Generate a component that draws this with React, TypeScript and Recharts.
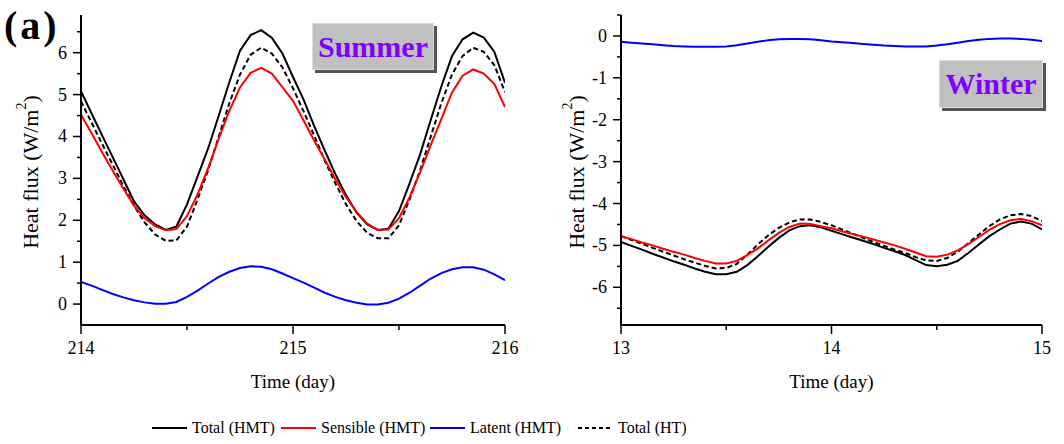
import React from 'react';
import { LineChart, Line, XAxis, YAxis } from 'recharts';

// Summer run, days 214–216 (W/m²)
const summerDays = [
  214.0, 214.05, 214.1, 214.15, 214.2, 214.25, 214.3, 214.35, 214.4, 214.45,
  214.5, 214.55, 214.6, 214.65, 214.7, 214.75, 214.8, 214.85, 214.9, 214.95,
  215.0, 215.05, 215.1, 215.15, 215.2, 215.25, 215.3, 215.35, 215.4, 215.45,
  215.5, 215.55, 215.6, 215.65, 215.7, 215.75, 215.8, 215.85, 215.9, 215.95, 216.0,
];
const summerTotalHMT = [
  5.08, 4.55, 4.02, 3.5, 2.98, 2.45, 2.12, 1.9, 1.77, 1.85,
  2.38, 3.05, 3.72, 4.5, 5.3, 6.05, 6.42, 6.54, 6.36, 5.98,
  5.42, 4.88, 4.25, 3.66, 3.1, 2.6, 2.18, 1.9, 1.77, 1.8,
  2.22, 2.88, 3.58, 4.4, 5.2, 5.92, 6.32, 6.48, 6.36, 6.02, 5.28,
];
const summerSensibleHMT = [
  4.52, 4.08, 3.62, 3.18, 2.75, 2.35, 2.05, 1.86, 1.76, 1.79,
  2.1, 2.62, 3.25, 3.95, 4.62, 5.17, 5.52, 5.64, 5.5, 5.18,
  4.85, 4.38, 3.9, 3.45, 2.98, 2.55, 2.2, 1.92, 1.77, 1.78,
  2.05, 2.55, 3.15, 3.8, 4.42, 5.05, 5.45, 5.6, 5.5, 5.25, 4.7,
];
const summerLatentHMT = [
  0.53, 0.44, 0.34, 0.24, 0.16, 0.09, 0.04, 0.01, 0.01, 0.05,
  0.17, 0.32, 0.49, 0.65, 0.77, 0.86, 0.9, 0.89, 0.83, 0.73,
  0.62, 0.51, 0.39, 0.27, 0.17, 0.09, 0.03, -0.01, -0.01, 0.03,
  0.13, 0.27, 0.44, 0.61, 0.74, 0.83, 0.88, 0.88, 0.82, 0.71, 0.57,
];
const summerTotalHT = [
  4.84, 4.33, 3.82, 3.32, 2.82, 2.35, 1.95, 1.66, 1.51, 1.52,
  1.85, 2.5, 3.2, 4.0, 4.8, 5.48, 5.95, 6.12, 5.98, 5.65,
  5.15, 4.6, 4.02, 3.42, 2.88, 2.38, 1.98, 1.7, 1.57, 1.57,
  1.88, 2.5, 3.2, 4.0, 4.8, 5.48, 5.92, 6.12, 6.02, 5.7, 5.06,
];

// Winter run, days 13–15 (W/m²)
const winterDays = [
  13.0, 13.05, 13.1, 13.15, 13.2, 13.25, 13.3, 13.35, 13.4, 13.45,
  13.5, 13.55, 13.6, 13.65, 13.7, 13.75, 13.8, 13.85, 13.9, 13.95,
  14.0, 14.05, 14.1, 14.15, 14.2, 14.25, 14.3, 14.35, 14.4, 14.45,
  14.5, 14.55, 14.6, 14.65, 14.7, 14.75, 14.8, 14.85, 14.9, 14.95, 15.0,
];
const winterTotalHMT = [
  -4.92, -5.01, -5.1, -5.2, -5.29, -5.38, -5.46, -5.55, -5.63, -5.69,
  -5.69, -5.63, -5.47, -5.26, -5.03, -4.82, -4.64, -4.54, -4.52, -4.57,
  -4.65, -4.73, -4.81, -4.89, -4.97, -5.06, -5.14, -5.23, -5.35, -5.47,
  -5.5, -5.46, -5.37, -5.18, -4.98, -4.78, -4.62, -4.48, -4.43, -4.48, -4.62,
];
const winterSensibleHMT = [
  -4.78, -4.85, -4.93, -5.0, -5.08, -5.15, -5.22, -5.3, -5.37, -5.43,
  -5.43, -5.37, -5.23, -5.07, -4.88, -4.7, -4.56, -4.48, -4.49, -4.54,
  -4.59, -4.66, -4.73, -4.79, -4.86, -4.93, -5.0, -5.08, -5.17, -5.26,
  -5.27, -5.22, -5.12, -4.97, -4.8, -4.63, -4.49, -4.4, -4.37, -4.42, -4.52,
];
const winterLatentHMT = [
  -0.14, -0.16, -0.18, -0.2, -0.22, -0.24, -0.25, -0.26, -0.26, -0.26,
  -0.25, -0.22, -0.18, -0.14, -0.1, -0.08, -0.07, -0.07, -0.08, -0.1,
  -0.13, -0.15, -0.17, -0.19, -0.21, -0.23, -0.24, -0.25, -0.25, -0.25,
  -0.23, -0.2, -0.16, -0.12, -0.09, -0.07, -0.06, -0.06, -0.07, -0.09, -0.12,
];
const winterTotalHT = [
  -4.78, -4.87, -4.96, -5.06, -5.15, -5.24, -5.33, -5.41, -5.49, -5.55,
  -5.54, -5.44, -5.22, -4.98, -4.76, -4.58, -4.45, -4.38, -4.38, -4.44,
  -4.52, -4.62, -4.72, -4.82, -4.92, -5.01, -5.1, -5.18, -5.28, -5.36,
  -5.37, -5.3, -5.15, -4.95, -4.74, -4.54, -4.38, -4.28, -4.25, -4.3, -4.42,
];

const summerTicksX = [214, 214.5, 215, 215.5, 216];
const summerTicksY = [0, 0.5, 1, 1.5, 2, 2.5, 3, 3.5, 4, 4.5, 5, 5.5, 6, 6.5];
const winterTicksX = [13, 13.5, 14, 14.5, 15];
const winterTicksY = [-6.5, -6, -5.5, -5, -4.5, -4, -3.5, -3, -2.5, -2, -1.5, -1, -0.5, 0, 0.5];

const FONT = '"Liberation Serif", "Times New Roman", serif';
const PURPLE = '#8000ff';

const summerData = summerDays.map((day, i) => ({
  day,
  total: summerTotalHMT[i],
  sensible: summerSensibleHMT[i],
  latent: summerLatentHMT[i],
  totalHT: summerTotalHT[i],
}));

const winterData = winterDays.map((day, i) => ({
  day,
  total: winterTotalHMT[i],
  sensible: winterSensibleHMT[i],
  latent: winterLatentHMT[i],
  totalHT: winterTotalHT[i],
}));

// ticks: long ones with a label on whole numbers, short ones on halves
const YTick = ({ x, y, payload }: any) => {
  const major = Number.isInteger(payload.value);
  return (
    <g>
      <line x1={x} x2={x - (major ? 8 : 4)} y1={y} y2={y} stroke="#000" strokeWidth={1.5} />
      {major && (
        <text x={x - 14} y={y + 6} textAnchor="end" fontSize={18} fontFamily={FONT} fill="#000">
          {payload.value}
        </text>
      )}
    </g>
  );
};

const XTick = ({ x, y, payload }: any) => {
  const major = Number.isInteger(payload.value);
  return (
    <g>
      <line x1={x} x2={x} y1={y} y2={y + (major ? 9 : 5)} stroke="#000" strokeWidth={1.5} />
      {major && (
        <text x={x} y={y + 29} textAnchor="middle" fontSize={18} fontFamily={FONT} fill="#000">
          {payload.value}
        </text>
      )}
    </g>
  );
};

const YTitle = ({ viewBox, cx }: any) => {
  const cy = viewBox.y + viewBox.height / 2 + 2;
  return (
    <text
      x={cx}
      y={cy}
      transform={`rotate(-90 ${cx} ${cy})`}
      textAnchor="middle"
      dominantBaseline="central"
      fontSize={22}
      fontFamily={FONT}
      fill="#000"
    >
      Heat flux (W/m
      <tspan fontSize={14} dy={-9}>2</tspan>
      <tspan dy={9}>)</tspan>
    </text>
  );
};

const XTitle = ({ viewBox }: any) => (
  <text
    x={viewBox.x + viewBox.width / 2}
    y={viewBox.y + 63}
    textAnchor="middle"
    fontSize={19}
    fontFamily={FONT}
    fill="#000"
  >
    Time (day)
  </text>
);

const Panel = ({ data, xDomain, xTicks, yDomain, yTicks, width, rightMargin, titleX }: any) => (
  <LineChart
    width={width}
    height={400}
    data={data}
    margin={{ top: 15, right: rightMargin, bottom: 0, left: 0 }}
  >
    <XAxis
      type="number"
      dataKey="day"
      domain={xDomain}
      ticks={xTicks}
      interval={0}
      tick={<XTick />}
      tickLine={false}
      tickSize={0}
      tickMargin={0}
      axisLine={{ stroke: '#000', strokeWidth: 2 }}
      height={75}
      allowDataOverflow
      label={<XTitle />}
    />
    <YAxis
      type="number"
      domain={yDomain}
      ticks={yTicks}
      interval={0}
      tick={<YTick />}
      tickLine={false}
      tickSize={0}
      tickMargin={0}
      axisLine={{ stroke: '#000', strokeWidth: 2 }}
      width={81}
      allowDataOverflow
      label={<YTitle cx={titleX} />}
    />
    <Line dataKey="total" stroke="#000" strokeWidth={2} dot={false} activeDot={false} isAnimationActive={false} />
    <Line dataKey="totalHT" stroke="#000" strokeWidth={2} strokeDasharray="5 3" dot={false} activeDot={false} isAnimationActive={false} />
    <Line dataKey="sensible" stroke="#ff0000" strokeWidth={2} dot={false} activeDot={false} isAnimationActive={false} />
    <Line dataKey="latent" stroke="#0000ff" strokeWidth={2} dot={false} activeDot={false} isAnimationActive={false} />
  </LineChart>
);

const SeasonTag = ({ text, left, top, width, height }: any) => (
  <div
    style={{
      position: 'absolute',
      left,
      top,
      width,
      height,
      background: '#c0c0c0',
      border: '1px solid #dcdcdc',
      boxShadow: '3px 3px 0 #555',
      color: PURPLE,
      fontFamily: FONT,
      fontWeight: 'bold',
      fontSize: 30,
      lineHeight: `${height}px`,
      textAlign: 'center',
    }}
  >
    {text}
  </div>
);

const legendItems = [
  { label: 'Total (HMT)', color: '#000', dash: undefined, left: 152 },
  { label: 'Sensible (HMT)', color: '#ff0000', dash: undefined, left: 281 },
  { label: 'Latent (HMT)', color: '#0000ff', dash: undefined, left: 430 },
  { label: 'Total (HT)', color: '#000', dash: '4 3', left: 578 },
];

export default function App() {
  return (
    <div
      style={{
        position: 'absolute',
        left: 0,
        top: 0,
        width: 1064,
        height: 444,
        background: '#fff',
        fontFamily: FONT,
        overflow: 'hidden',
      }}
    >
      <div style={{ position: 'absolute', left: 0, top: 0 }}>
        <Panel
          data={summerData}
          xDomain={[214, 216]}
          xTicks={summerTicksX}
          yDomain={[-0.5, 6.9]}
          yTicks={summerTicksY}
          width={530}
          rightMargin={25}
          titleX={30}
        />
      </div>
      <div style={{ position: 'absolute', left: 540, top: 0 }}>
        <Panel
          data={winterData}
          xDomain={[13, 15]}
          xTicks={winterTicksX}
          yDomain={[-6.9, 0.5]}
          yTicks={winterTicksY}
          width={524}
          rightMargin={22}
          titleX={36}
        />
      </div>

      <div
        style={{
          position: 'absolute',
          left: 4,
          top: 13,
          height: 26,
          fontSize: 40,
          lineHeight: '26px',
          letterSpacing: 3,
          fontWeight: 'bold',
          whiteSpace: 'pre',
          color: '#000',
        }}
      >
        (a)
      </div>

      <SeasonTag text="Summer" left={312} top={23} width={120} height={45} />
      <SeasonTag text="Winter" left={939} top={60} width={102} height={46} />

      {legendItems.map((item) => (
        <div
          key={item.label}
          style={{
            position: 'absolute',
            left: item.left,
            top: 418,
            height: 20,
            display: 'flex',
            alignItems: 'center',
            fontSize: 16,
            color: '#000',
            whiteSpace: 'nowrap',
          }}
        >
          <svg width={35} height={4} style={{ marginRight: 5 }}>
            <line x1={0} x2={35} y1={2} y2={2} stroke={item.color} strokeWidth={2} strokeDasharray={item.dash} />
          </svg>
          {item.label}
        </div>
      ))}
    </div>
  );
}
